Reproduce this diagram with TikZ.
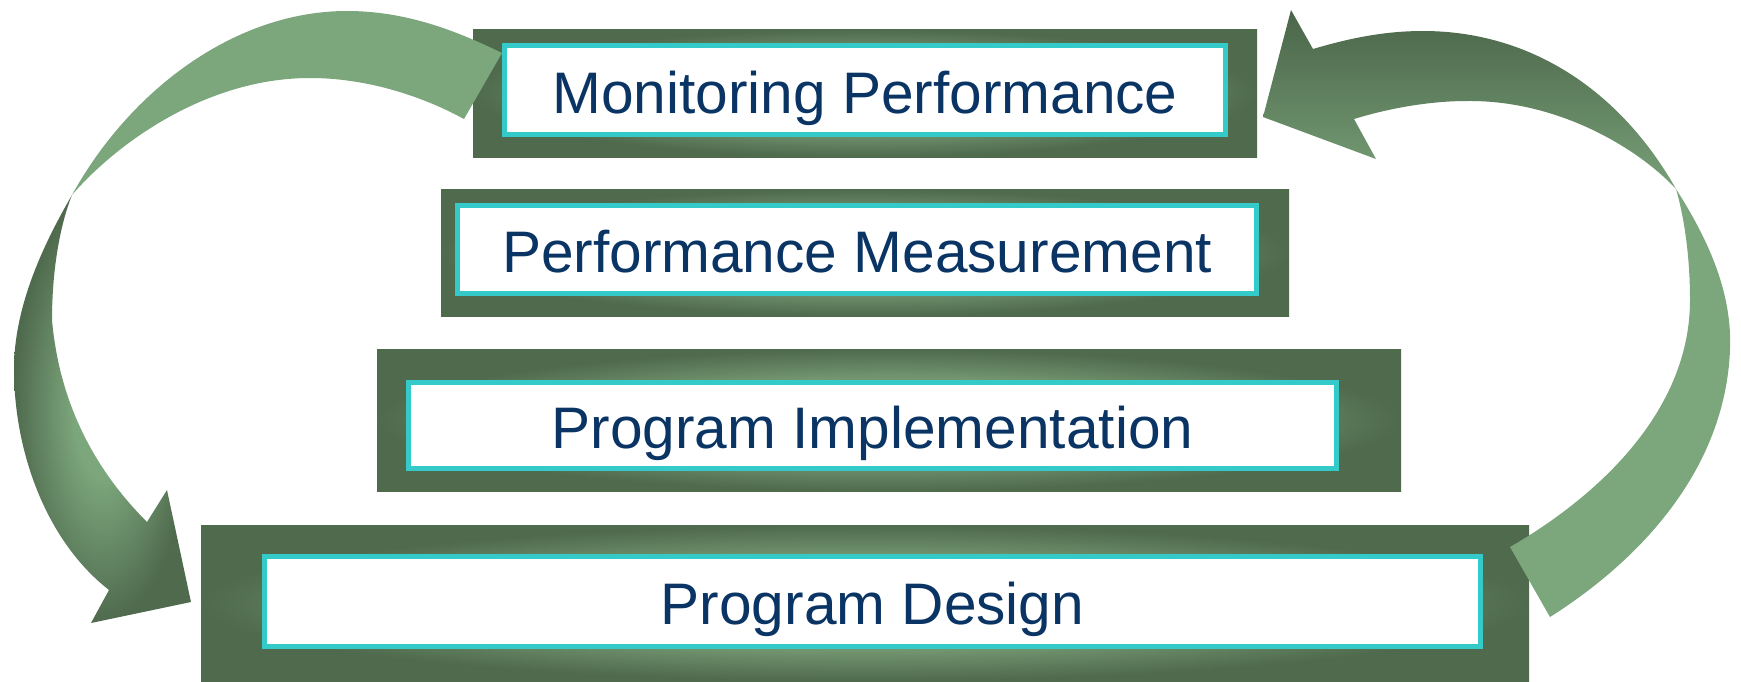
\documentclass[tikz,border=0pt]{standalone}
\usepackage{fontspec}
\setmainfont{Liberation Sans}
\definecolor{dkg}{HTML}{4F6A4D}
\definecolor{glow}{HTML}{739670}
\definecolor{ltg}{HTML}{7CA67C}
\definecolor{cyanb}{HTML}{35CACA}
\definecolor{navy}{HTML}{0A3464}
\pgfdeclareradialshading{boxglow}{\pgfpoint{0bp}{0bp}}{color(0bp)=(glow); color(15bp)=(glow); color(25bp)=(dkg); color(50bp)=(dkg)}
\pgfdeclareradialshading{arrowglow}{\pgfpoint{0bp}{0bp}}{color(0bp)=(ltg); color(8bp)=(ltg); color(25bp)=(dkg); color(50bp)=(dkg)}
\tikzset{
  outerbox/.style={shading=boxglow},
  innerbox/.style={fill=white, draw=cyanb, line width=5pt},
  lbl/.style={text=navy, font=\fontsize{58.6}{70}\selectfont, anchor=base, inner sep=0pt},
  lightband/.style={fill=ltg},
  darkband/.style={shading=arrowglow},
  darkbandtop/.style={top color=dkg!95!black, bottom color=ltg!90!dkg, middle color=dkg!60!ltg},
}
\begin{document}
\begin{tikzpicture}[x=1pt,y=-1pt]
\useasboundingbox (0,0) rectangle (1741,681);
% boxes
\shade[outerbox] (473,29) rectangle (1257,157);
\draw[innerbox] (504.5,45.5) rectangle (1225.5,134.5);
\shade[outerbox] (441,189) rectangle (1289,316);
\draw[innerbox] (457.5,205.5) rectangle (1256.5,293.5);
\shade[outerbox] (377,349) rectangle (1401,491);
\draw[innerbox] (408.5,382.5) rectangle (1336.5,468.5);
\shade[outerbox] (201,525) rectangle (1529,681);
\draw[innerbox] (264.5,556.5) rectangle (1480.5,646.5);
% left arrow: upper band
\fill[lightband] (502,53) .. controls (455,30) and (405,11) .. (347,11)
  .. controls (235,11) and (130,90) .. (72,195)
  .. controls (115,145) and (205,78) .. (310,78)
  .. controls (365,78) and (420,95) .. (464,119) -- cycle;
% left arrow: lower band and head
\shade[darkband] (72,195) .. controls (40,250) and (14,310) .. (14,369)
  .. controls (14,450) and (45,540) .. (109,590)
  -- (91,623) -- (191,602) -- (167,490) -- (147,522)
  .. controls (100,475) and (60,410) .. (52,320)
  .. controls (52,270) and (60,225) .. (72,195) -- cycle;
% right arrow: upper band and head
\shade[darkbandtop] (1313,49) .. controls (1350,38) and (1385,31) .. (1423,31)
  .. controls (1530,31) and (1620,90) .. (1676,189)
  .. controls (1640,150) and (1560,100) .. (1467,101)
  .. controls (1430,101) and (1390,108) .. (1354,119)
  -- (1376,159) -- (1263,117) -- (1291,10) -- cycle;
% right arrow: lower band
\fill[lightband] (1676,189) .. controls (1715,250) and (1732,300) .. (1730,350)
  .. controls (1725,470) and (1640,560) .. (1550,617)
  -- (1510,547) .. controls (1600,495) and (1690,410) .. (1690,300)
  .. controls (1690,260) and (1685,220) .. (1676,189) -- cycle;
% labels
\node[lbl] (mon) at (865,113) {Monitoring Performance};
\node[lbl] (meas) at (857,272.5) {Performance Measurement};
\node[lbl] (impl) at (872.5,448.5) {Program Implementation};
\node[lbl] (design) at (872.5,624.5) {Program Design};
\end{tikzpicture}
\end{document}
